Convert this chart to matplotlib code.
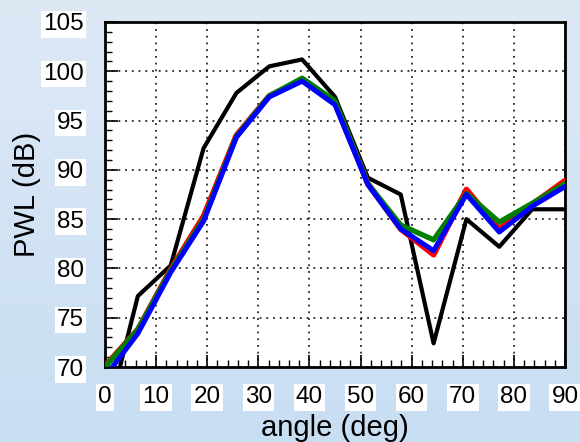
import numpy as np
import matplotlib
matplotlib.use("Agg")
import matplotlib.pyplot as plt
from matplotlib.ticker import MultipleLocator
from matplotlib.colors import LinearSegmentedColormap

plt.rcParams['font.family'] = ['Liberation Sans', 'DejaVu Sans']

angle = [0, 6.43, 12.86, 19.29, 25.71, 32.14, 38.57, 45.0, 51.43, 57.86, 64.29, 70.71, 77.14, 83.57, 90.0]
pwl_black = [64.0, 77.2, 80.3, 92.2, 97.8, 100.5, 101.2, 97.4, 89.2, 87.5, 72.4, 85.0, 82.2, 86.0, 86.0]
pwl_red = [70.1, 73.8, 79.9, 85.3, 93.5, 97.5, 99.1, 96.8, 88.6, 84.0, 81.4, 88.0, 84.0, 86.5, 88.9]
pwl_green = [70.0, 73.8, 79.8, 85.0, 93.4, 97.5, 99.3, 97.0, 88.6, 84.4, 82.9, 87.6, 84.7, 86.6, 88.6]
pwl_blue = [69.0, 73.4, 79.6, 84.8, 93.3, 97.4, 99.0, 96.6, 88.5, 84.0, 81.8, 87.5, 83.7, 86.3, 88.3]

W, H = 580, 442
fig = plt.figure(figsize=(W/100, H/100), dpi=100)

# gradient background
bg = fig.add_axes([0, 0, 1, 1], zorder=-10)
cmap = LinearSegmentedColormap.from_list('bg', ['#dee9f6', '#c8def3'])
bg.imshow(np.linspace(0, 1, 256).reshape(-1, 1), aspect='auto', cmap=cmap, extent=[0, 1, 0, 1])
bg.axis('off')

ax = fig.add_axes([105/W, (H-367)/H, 460/W, 345/H])
ax.set_facecolor('white')

ax.plot(angle, pwl_black, color='black', lw=3.0, zorder=3)
ax.plot(angle, pwl_red, color='red', lw=4.2, zorder=4)
ax.plot(angle, pwl_green, color='green', lw=3.8, zorder=5)
ax.plot(angle, pwl_blue, color='blue', lw=3.6, zorder=6)

ax.set_xlim(0, 90)
ax.set_ylim(70, 105)
ax.xaxis.set_major_locator(MultipleLocator(10))
ax.xaxis.set_minor_locator(MultipleLocator(2))
ax.yaxis.set_major_locator(MultipleLocator(5))
ax.yaxis.set_minor_locator(MultipleLocator(1))
ax.tick_params(which='major', direction='in', length=9, width=1.2, labelsize=17.5)
ax.tick_params(axis='x', which='major', pad=14)
ax.tick_params(axis='y', which='major', pad=15)
ax.tick_params(which='minor', direction='in', length=5, width=1.0)
ax.tick_params(top=False, right=False)
for lab in ax.get_xticklabels() + ax.get_yticklabels():
    lab.set_bbox(dict(facecolor='white', edgecolor='none', pad=1.5))
ax.grid(True, which='major', color='black', linestyle=(0, (1.2, 3.2)), lw=1.1)
for s in ax.spines.values():
    s.set_linewidth(2.0)

ax.set_xlabel('angle (deg)', fontsize=21, labelpad=4)
ax.set_ylabel('PWL (dB)', fontsize=21, labelpad=2)

fig.savefig('out.png', dpi=100)
